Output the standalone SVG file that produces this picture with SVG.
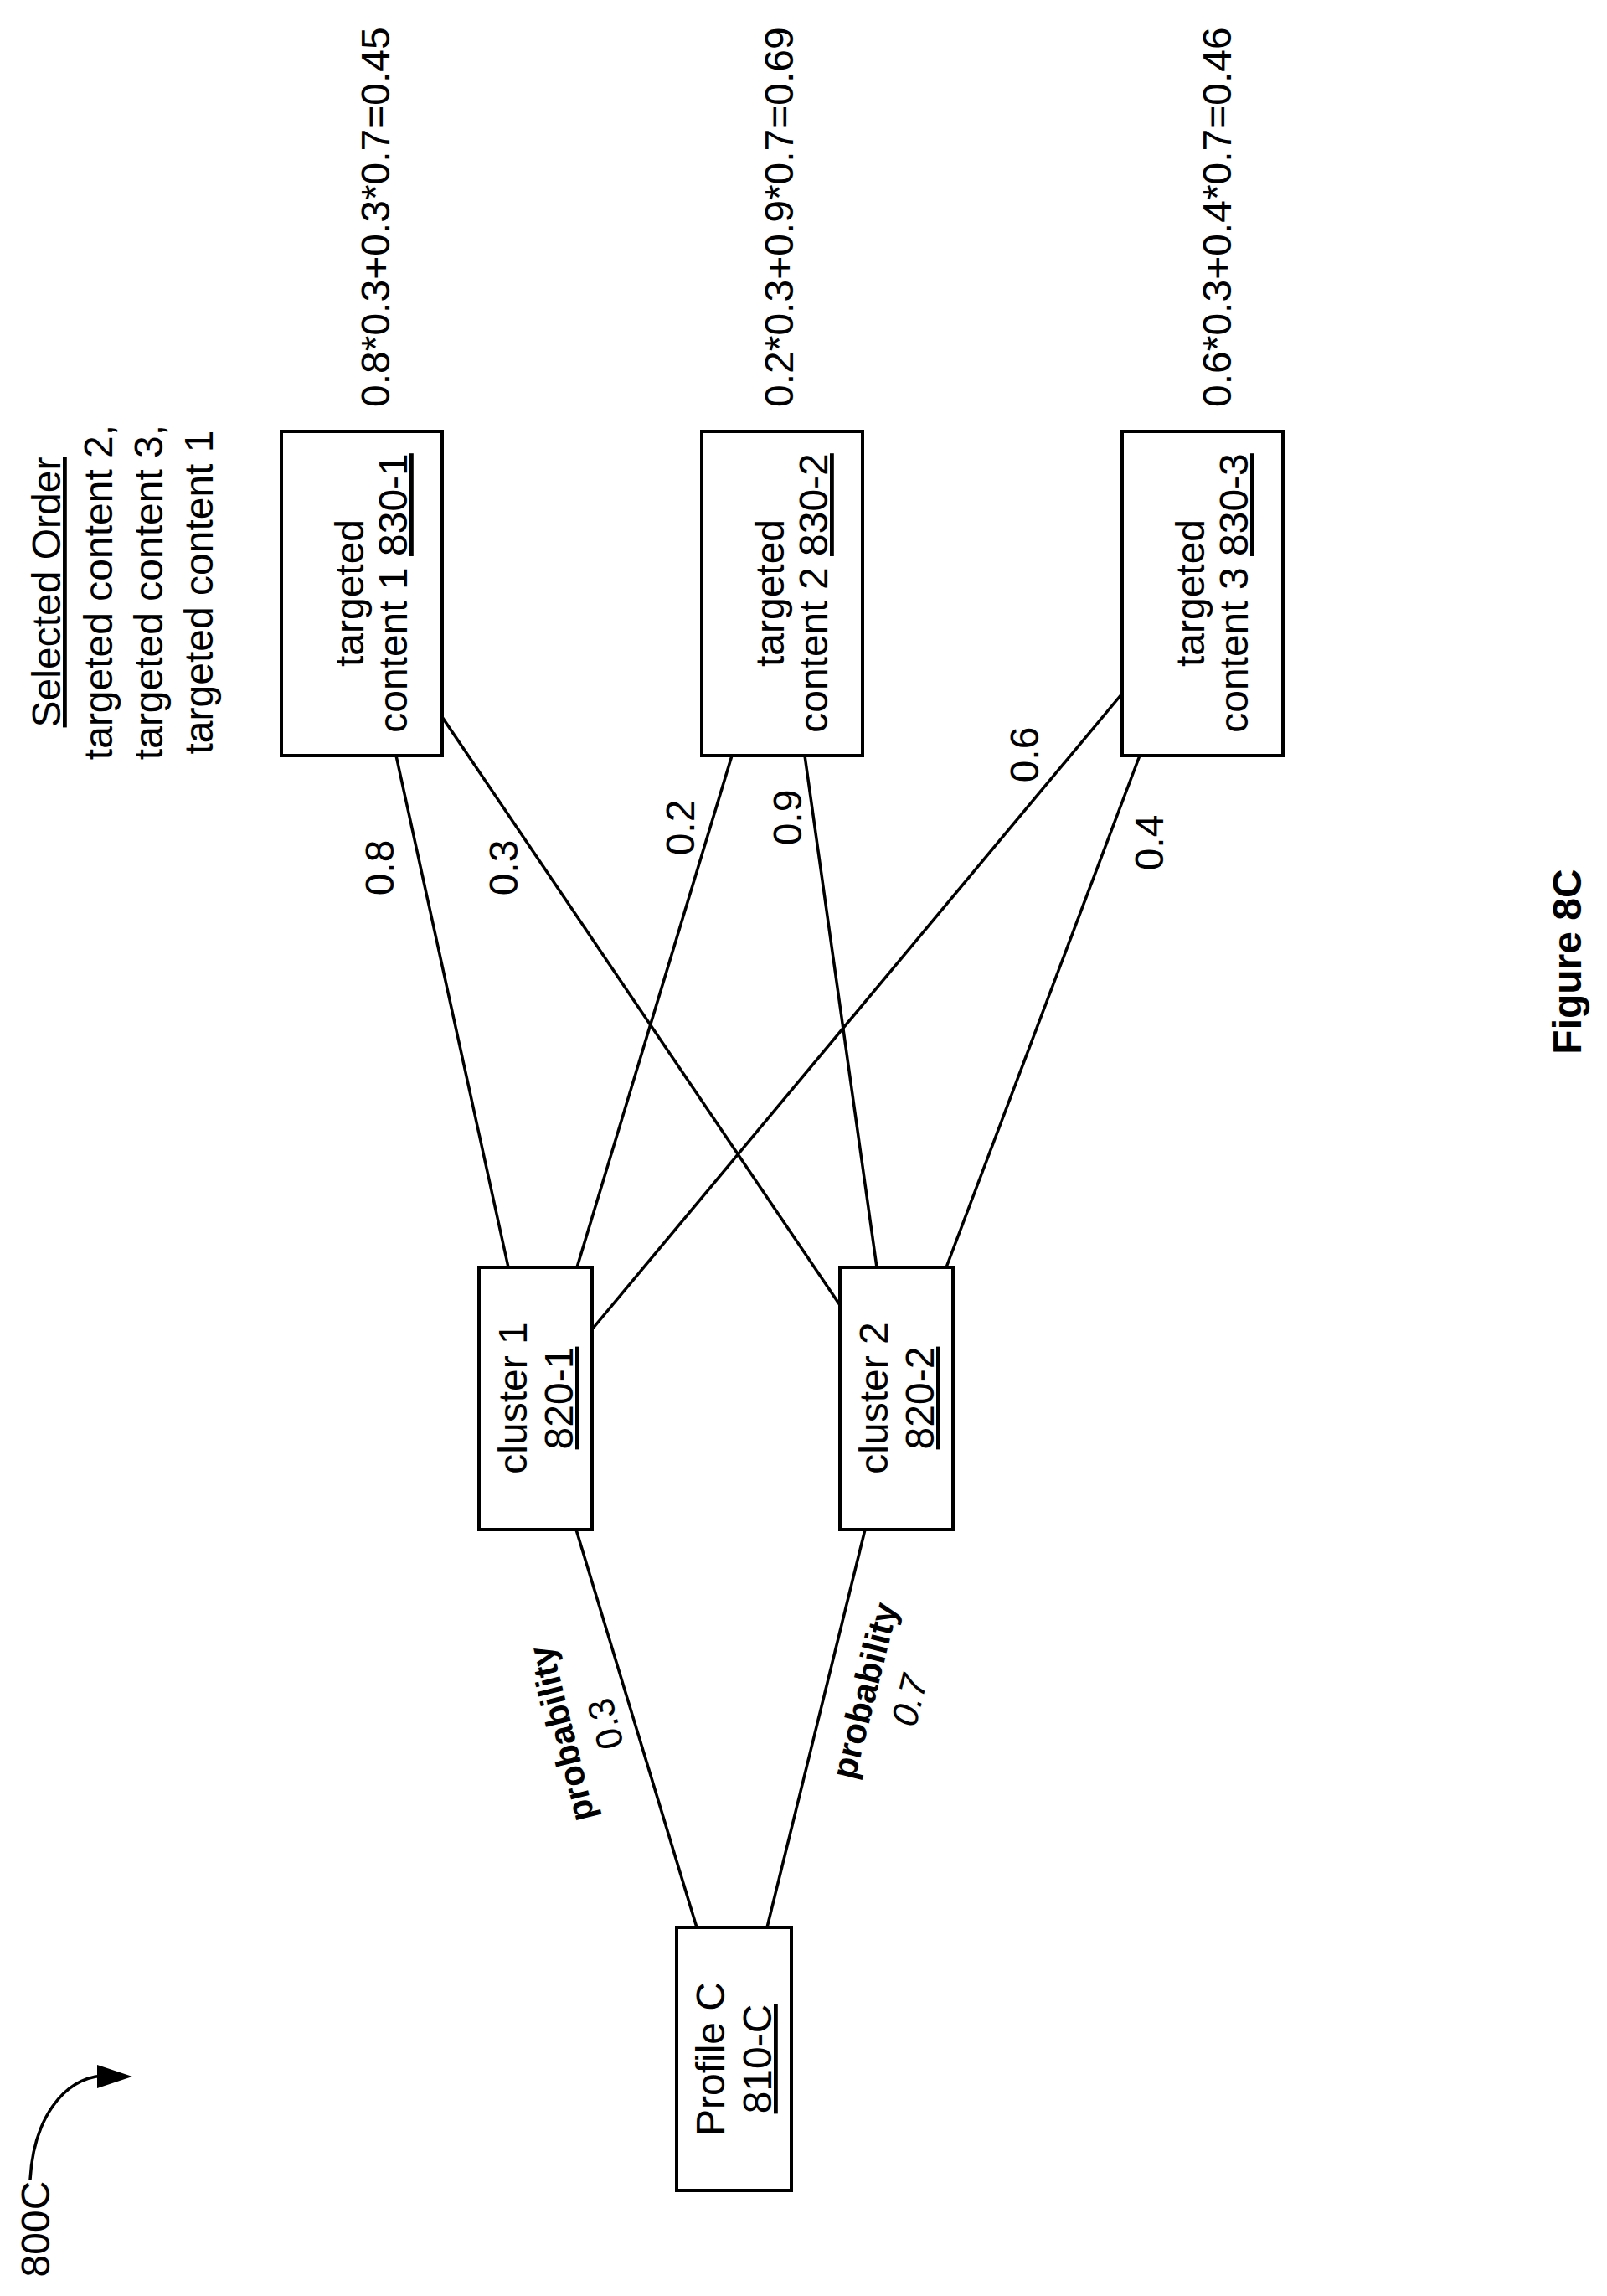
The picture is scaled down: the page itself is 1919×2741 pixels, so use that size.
<svg xmlns="http://www.w3.org/2000/svg" width="1919" height="2741" viewBox="0 0 1919 2741">
<style>
text{font-family:"Liberation Sans",Arial,sans-serif;font-size:48px;fill:#000}
.m{text-anchor:middle}
.b{font-weight:bold}
rect{fill:#fff;stroke:#000;stroke-width:4}
line,path.c{stroke:#000;stroke-width:3.5;fill:none}
</style>
<rect x="0" y="0" width="1919" height="2741" style="stroke:none"/>
<g id="connectors">
<line x1="473" y1="902" x2="607" y2="1513"/>
<line x1="528" y1="856" x2="1003" y2="1558"/>
<line x1="874" y1="902" x2="689" y2="1513"/>
<line x1="961" y1="902" x2="1047" y2="1513"/>
<line x1="1340" y1="828" x2="707" y2="1587"/>
<line x1="1361" y1="902" x2="1130" y2="1513"/>
<line x1="688" y1="1826" x2="832" y2="2301"/>
<line x1="1033" y1="1826" x2="916" y2="2301"/>
</g>
<g id="edge-labels">
<text class="m" transform="translate(470,1036) rotate(-90)">0.8</text>
<text class="m" transform="translate(618,1036) rotate(-90)">0.3</text>
<text class="m" transform="translate(829,988) rotate(-90)">0.2</text>
<text class="m" transform="translate(957,976) rotate(-90)">0.9</text>
<text class="m" transform="translate(1240,901) rotate(-90)">0.6</text>
<text class="m" transform="translate(1389,1006) rotate(-90)">0.4</text>
<text class="m b" style="font-size:42px" transform="translate(670,2070) rotate(-104)" dy="15">probability</text>
<text class="m" style="font-size:44px" transform="translate(723,2058) rotate(-104)" dy="15">0.3</text>
<text class="m b" style="font-size:42px" transform="translate(1032,2018) rotate(-76)" dy="15">probability</text>
<text class="m" style="font-size:44px;font-style:italic" transform="translate(1086,2030) rotate(-76)" dy="15">0.7</text>
</g>
<g id="t1">
<rect x="336" y="515" width="192" height="387"/>
<text class="m" transform="translate(434,708) rotate(-90)">targeted</text>
<text class="m" transform="translate(486,708) rotate(-90)">content 1 <tspan text-decoration="underline">830-1</tspan></text>
<text transform="translate(465,486) rotate(-90)">0.8*0.3+0.3*0.7=0.45</text>
</g>
<g id="t2">
<rect x="838" y="515" width="192" height="387"/>
<text class="m" transform="translate(936,708) rotate(-90)">targeted</text>
<text class="m" transform="translate(988,708) rotate(-90)">content 2 <tspan text-decoration="underline">830-2</tspan></text>
<text transform="translate(947,486) rotate(-90)">0.2*0.3+0.9*0.7=0.69</text>
</g>
<g id="t3">
<rect x="1340" y="515" width="192" height="387"/>
<text class="m" transform="translate(1438,708) rotate(-90)">targeted</text>
<text class="m" transform="translate(1490,708) rotate(-90)">content 3 <tspan text-decoration="underline">830-3</tspan></text>
<text transform="translate(1470,486) rotate(-90)">0.6*0.3+0.4*0.7=0.46</text>
</g>
<g id="c1">
<rect x="572" y="1513" width="135" height="313"/>
<text class="m" transform="translate(629,1669) rotate(-90)">cluster 1</text>
<text class="m" transform="translate(684,1669) rotate(-90)" text-decoration="underline">820-1</text>
</g>
<g id="c2">
<rect x="1003" y="1513" width="135" height="313"/>
<text class="m" transform="translate(1060,1669) rotate(-90)">cluster 2</text>
<text class="m" transform="translate(1115,1669) rotate(-90)" text-decoration="underline">820-2</text>
</g>
<g id="profile">
<rect x="808" y="2301" width="137" height="314"/>
<text class="m" transform="translate(865,2458) rotate(-90)">Profile C</text>
<text class="m" transform="translate(921,2458) rotate(-90)" text-decoration="underline">810-C</text>
</g>
<g id="order">
<text class="m" transform="translate(72,707) rotate(-90)" text-decoration="underline">Selected Order</text>
<text class="m" transform="translate(134,707) rotate(-90)">targeted content 2,</text>
<text class="m" transform="translate(194,707) rotate(-90)">targeted content 3,</text>
<text class="m" transform="translate(254,707) rotate(-90)">targeted content 1</text>
</g>
<g id="ref">
<text class="m" transform="translate(59,2661) rotate(-90)">800C</text>
<path class="c" d="M36,2602 C40,2530 75,2482 122,2478"/>
<polygon points="116,2465 158,2479 116,2493" fill="#000"/>
</g>
<text class="m b" transform="translate(1888,1148) rotate(-90)">Figure 8C</text>
</svg>
